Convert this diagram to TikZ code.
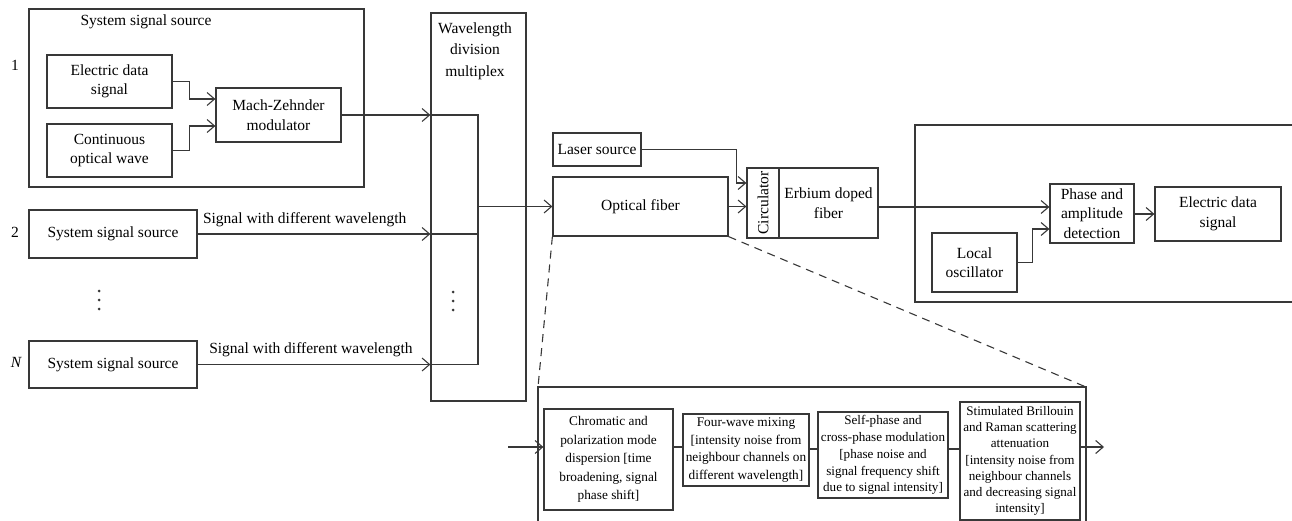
\documentclass[tikz,border=0pt]{standalone}
\usepackage{fontspec}
\setmainfont{Liberation Serif}
\usetikzlibrary{arrows.meta}
\begin{document}
\begin{tikzpicture}[x=1pt,y=-1pt,line width=1.25pt,color=black!78,
  every node/.style={text=black},
  box/.style={draw, inner sep=0pt, align=center, font=\fontsize{15.5}{19.5}\selectfont},
  sbox/.style={draw, inner sep=0pt, align=center, font=\fontsize{13.3}{17.5}\selectfont},
  lab/.style={inner sep=0pt, align=center, font=\fontsize{15.5}{20}\selectfont},
  arr/.style={-{Straight Barb[length=7.5pt,width=13pt,line width=1.1pt]}},
  dsh/.style={dash pattern=on 8pt off 6pt, line width=1.1pt}]
\useasboundingbox (0,0) rectangle (1292,521);

% ---- source 1 group
\node[draw, inner sep=0pt, minimum width=335, minimum height=178] (grp1) at (196.5,98) {};
\node[lab] (t1) at (146,22) {System signal source};
\node[lab] (n1) at (15,65) {1};
\node[box, minimum width=125, minimum height=53] (eds1) at (109.5,81.5) {Electric data\\signal};
\node[box, minimum width=125, minimum height=53] (cow) at (109.5,150.5) {Continuous\\optical wave};
\node[box, minimum width=125, minimum height=54] (mz) at (278.5,115) {Mach-Zehnder\\modulator};

% ---- sources 2 and N
\node[lab] (n2) at (15,232) {2};
\node[box, minimum width=168, minimum height=48] (src2) at (113,234) {System signal source};
\node[lab] (nN) at (16,362) {\itshape N};
\node[box, minimum width=168, minimum height=47] (srcN) at (113,364.5) {System signal source};
\fill (99,291) circle (1.5pt) (99,300) circle (1.5pt) (99,309) circle (1.5pt);

% ---- WDM
\node[draw, inner sep=0pt, minimum width=95, minimum height=388] (wdm) at (478.5,207) {};
\node[lab, font=\fontsize{15.5}{21.5}\selectfont] (wdmt) at (475,51) {Wavelength\\division\\multiplex};
\coordinate (wtop) at (478,115);
\coordinate (wbot) at (478,364.5);
\fill (453,292) circle (1.5pt) (453,301) circle (1.5pt) (453,310) circle (1.5pt);

% ---- fibre link
\node[box, minimum width=88, minimum height=33] (laser) at (597,149.5) {Laser source};
\node[box, minimum width=175, minimum height=59] (fiber) at (640.5,206.5) {Optical fiber};
\node[box, rotate=90, minimum width=70, minimum height=32] (circ) at (763,203) {Circulator};
\node[box, minimum width=99, minimum height=70] (erb) at (828.5,203) {Erbium doped\\fiber};

% ---- receiver
\coordinate (rTL) at (915,125);
\coordinate (rBL) at (915,302);
\coordinate (rTR) at (1292,125);
\coordinate (rBR) at (1292,302);
\draw (rTR) -- (rTL) -- (rBL) -- (rBR);
\node[box, minimum width=84, minimum height=59] (pad) at (1092,213.5) {Phase and\\amplitude\\detection};
\node[box, minimum width=126, minimum height=54] (eds2) at (1218,214) {Electric data\\signal};
\node[box, minimum width=85, minimum height=59] (lo) at (974.5,262.5) {Local\\oscillator};

% ---- impairment detail
\coordinate (lowTL) at (538,387);
\coordinate (lowTR) at (1086,387);
\coordinate (lowBL) at (538,521);
\coordinate (lowBR) at (1086,521);
\draw (lowBL) -- (lowTL) -- (lowTR) -- (lowBR);
\draw[dsh] (fiber.south west) -- (lowTL);
\draw[dsh] (fiber.south east) -- (lowTR);
\node[sbox, minimum width=129, minimum height=101, font=\fontsize{13.3}{18.5}\selectfont] (A) at (608.5,459.5) {Chromatic and\\polarization mode\\dispersion [time\\broadening, signal\\phase shift]};
\node[sbox, minimum width=126, minimum height=72] (B) at (746,450) {Four-wave mixing\\{[intensity noise from}\\neighbour channels on\\different wavelength]};
\node[sbox, minimum width=130, minimum height=86, font=\fontsize{13.1}{16.8}\selectfont] (C) at (883,455) {Self-phase and\\cross-phase modulation\\{[phase noise and}\\signal frequency shift\\due to signal intensity]};
\node[sbox, minimum width=120, minimum height=118, font=\fontsize{13.1}{16.2}\selectfont] (D) at (1020,461) {Stimulated Brillouin\\and Raman scattering\\attenuation\\{[intensity noise from}\\neighbour channels\\and decreasing signal\\intensity]};
\coordinate (yAB) at (0,447);
\coordinate (yBC) at (0,449);
\coordinate (lin) at (508,447);
\coordinate (lout) at (1104,447);

% ---- connectors
\draw[arr] (eds1.east) -- ++(17,0) |- ([yshift=16pt]mz.west);
\draw[arr] (cow.east) -- ++(17,0) |- ([yshift=-11pt]mz.west);
\draw[arr] (mz.east) -- (mz.east -| wdm.west);
\draw (mz.east -| wdm.west) -- (wtop) -- (wbot) -- (srcN.east -| wdm.west);
\draw[arr] (src2.east) -- (src2.east -| wdm.west) node[lab, pos=0.46, above=7pt] (l2) {Signal with different wavelength};
\draw (src2.east -| wdm.west) -- (src2.east -| wtop);
\draw[arr] (srcN.east) -- (srcN.east -| wdm.west) node[lab, pos=0.487, above=7pt] (lN) {Signal with different wavelength};
\draw[arr] (wtop |- fiber.west) -- (fiber.west);
\coordinate (yLC) at (0,183);
\draw[arr] (laser.east) -- ++(95,0) |- (circ.north |- yLC);
\draw[arr] (fiber.east) -- (fiber.east -| circ.north);
\draw[arr] ([yshift=-4pt]erb.east) -- ([yshift=-4pt]erb.east -| pad.west);
\draw[arr] (pad.east |- eds2.west) -- (eds2.west);
\draw[arr] (lo.east) -- ++(15,0) |- ([yshift=-15.5pt]pad.west);
\draw[arr] (lin) -- (lin -| A.west);
\draw (A.east |- yAB) -- (B.west |- yAB);
\draw (B.east |- yBC) -- (C.west |- yBC);
\draw (C.east |- yBC) -- (D.west |- yBC);
\draw[arr] (D.east |- yAB) -- (lout);
\end{tikzpicture}
\end{document}
